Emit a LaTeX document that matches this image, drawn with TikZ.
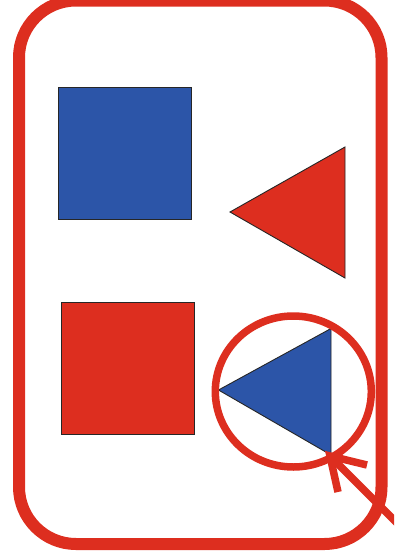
\documentclass[tikz,border=0pt]{standalone}
\begin{document}
\begin{tikzpicture}[x=1pt,y=-1pt,
  shapebox/.style={draw=black!85,line width=0.9pt},
  redline/.style={draw=myred,line width=7.5pt}]
\definecolor{myred}{HTML}{DD2E1F}
\definecolor{myblue}{HTML}{2C55A8}
\useasboundingbox (0,0) rectangle (394,560);
\clip (0,0) rectangle (394,560);
% frame
\draw[draw=myred,line width=12pt,rounded corners=57pt] (19,0.5) rectangle (381.5,544);
% shapes
\fill[myblue,shapebox] (58,87) rectangle (191,219);
\fill[myred,shapebox] (230,212) -- (345,147) -- (345,278) -- cycle;
\fill[myred,shapebox] (61,302) rectangle (194,434);
\fill[myblue,shapebox] (218.5,390) -- (331,328.5) -- (331,455) -- cycle;
% highlight circle
\draw[redline] (293.3,391.5) ellipse [x radius=78, y radius=75.5];
% arrow
\coordinate (tip) at (330,456);
\coordinate (tail) at (410,536);
\coordinate (b1) at (367,465);
\coordinate (b2) at (338,492);
\draw[redline,line cap=butt] (tip) -- (tail);
\draw[redline,line cap=butt,line join=miter] (b1) -- (tip) -- (b2);
\end{tikzpicture}
\end{document}
